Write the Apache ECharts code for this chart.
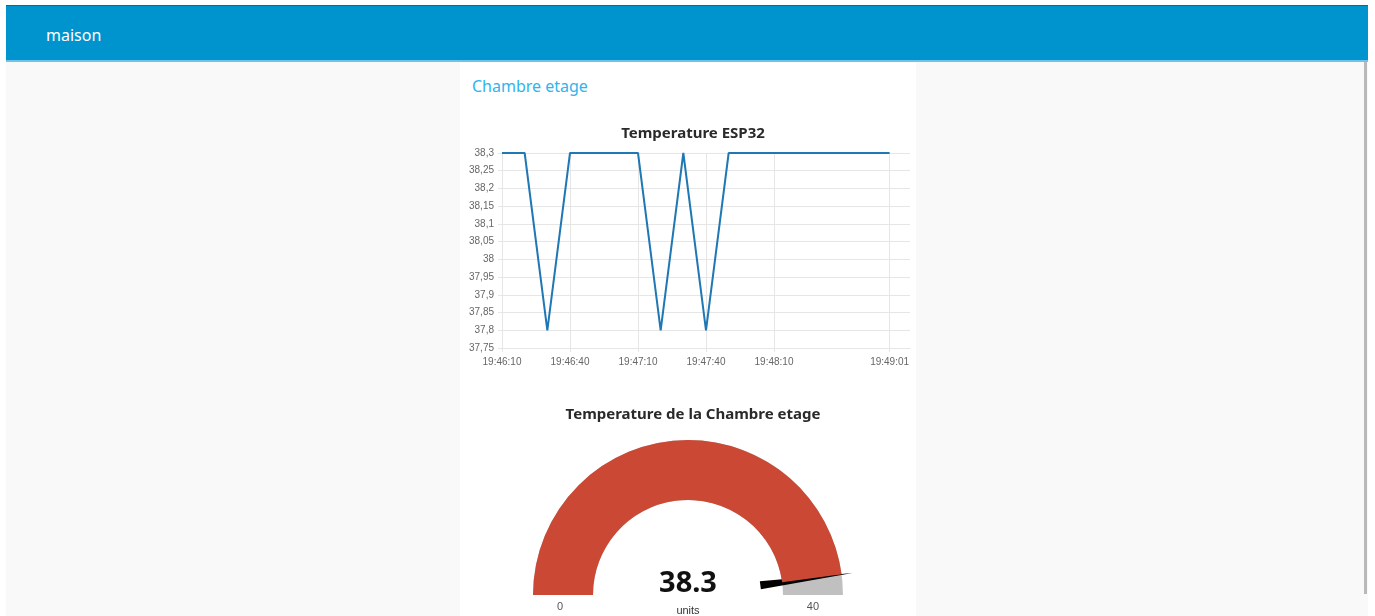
<!DOCTYPE html>
<html>
<head>
<meta charset="utf-8">
<script src="https://cdn.jsdelivr.net/npm/echarts@6/dist/echarts.min.js"></script>
<style>
  html, body { margin: 0; padding: 0; background: #fff; overflow: hidden; }
  body { width: 1375px; height: 616px; position: relative; font-family: "Noto Sans", sans-serif; }
  .page { position: absolute; left: 6px; top: 6px; width: 1362px; height: 610px; background: #f9f9f9; }
  .toolbar { position: absolute; left: 6px; top: 5px; width: 1362px; height: 57px; background: #0094ce;
             border-top: 1px solid #0b6a94; border-bottom: 2px solid #6fc3e6; box-sizing: border-box; }
  .toolbar span { position: absolute; left: 40px; top: 18px; color: #fff; font-size: 16px; }
  .card { position: absolute; left: 460px; top: 62px; width: 456px; height: 554px; background: #fff; }
  .card .group { position: absolute; left: 12px; top: 13px; color: #2fb4ee; font-size: 16px; }
  .scroll { position: absolute; left: 1364px; top: 62px; width: 3px; height: 532px; background: #b9b9b9; }
  #chart { position: absolute; left: 0; top: 0; width: 1375px; height: 616px; }
</style>
</head>
<body>
<div class="page"></div>
<div class="toolbar"><span>maison</span></div>
<div class="card"><div class="group">Chambre etage</div></div>
<div class="scroll"></div>
<div id="chart"></div>
<script>
// relevés du capteur (heure, °C)
const times = ['19:46:10', '19:46:20', '19:46:30', '19:46:40', '19:47:10', '19:47:20',
               '19:47:30', '19:47:40', '19:47:50', '19:49:01'];
const temps = [38.3, 38.3, 37.8, 38.3, 38.3, 37.8, 38.3, 37.8, 38.3, 38.3];
const xTicks = ['19:46:10', '19:46:40', '19:47:10', '19:47:40', '19:48:10', '19:49:01'];
const xEnd = '19:49:10';
const yMin = 37.75, yMax = 38.3, yStep = 0.05;
// jauge
const gaugeValue = 38.3;
const gaugeMin = 0, gaugeMax = 40;
const gaugeUnit = 'units';

// secondes depuis minuit
function secs(hms) {
  const p = hms.split(':').map(Number);
  return p[0] * 3600 + p[1] * 60 + p[2];
}
function pad(n) { return n < 10 ? '0' + n : '' + n; }
function fmtTime(v) {
  v = Math.round(v);
  return Math.floor(v / 3600) + ':' + pad(Math.floor(v / 60) % 60) + ':' + pad(v % 60);
}

const tickValues = xTicks.map(secs);
const gridColor = '#e6e6e6';

const option = {
  animation: false,
  title: [
    {
      text: 'Temperature ESP32', left: 688, top: 121, textAlign: 'center',
      textStyle: { fontFamily: 'Noto Sans', fontSize: 15, fontWeight: 'bold', color: '#2a2a2a' }
    },
    {
      text: 'Temperature de la Chambre etage', left: 688, top: 402, textAlign: 'center',
      textStyle: { fontFamily: 'Noto Sans', fontSize: 15, fontWeight: 'bold', color: '#2a2a2a' }
    }
  ],
  grid: { left: 502, top: 153, right: 465, bottom: 268 },
  xAxis: {
    type: 'value',
    min: secs(times[0]),
    max: secs(xEnd),
    axisLine: { show: true, lineStyle: { color: gridColor } },
    axisTick: { show: true, length: 4, customValues: tickValues, lineStyle: { color: gridColor } },
    splitLine: { show: true, lineStyle: { color: gridColor } },
    axisLabel: {
      customValues: tickValues,
      formatter: fmtTime,
      fontFamily: 'Liberation Sans', fontSize: 10, color: '#666', margin: 9
    }
  },
  yAxis: {
    type: 'value',
    min: yMin, max: yMax, interval: yStep,
    axisLine: { show: true, lineStyle: { color: gridColor } },
    axisTick: { show: true, length: 4, lineStyle: { color: gridColor } },
    splitLine: { show: true, lineStyle: { color: gridColor } },
    axisLabel: {
      formatter: v => String(+v.toFixed(2)).replace('.', ','),
      fontFamily: 'Liberation Sans', fontSize: 10, color: '#666', margin: 8
    }
  },
  series: [
    {
      type: 'line',
      data: times.map((t, i) => [secs(t), temps[i]]),
      showSymbol: false,
      lineStyle: { color: '#1f77b4', width: 2 },
      itemStyle: { color: '#1f77b4' }
    },
    {
      type: 'gauge',
      center: [688, 595],
      radius: 155,
      startAngle: 180, endAngle: 0,
      min: gaugeMin, max: gaugeMax,
      splitNumber: 1,
      progress: { show: true, width: 60, itemStyle: { color: '#ca4834' } },
      axisLine: { lineStyle: { width: 60, color: [[1, '#c0c0c0']] } },
      axisTick: { show: false },
      splitLine: { show: false, length: 0, distance: 0 },
      axisLabel: {
        distance: 24, color: '#555', fontFamily: 'Liberation Sans', fontSize: 11,
        align: 'center', verticalAlign: 'middle', lineHeight: 24,
        formatter: v => '\n' + v
      },
      pointer: {
        icon: 'triangle', length: 93, width: 8, offsetCenter: [0, -73],
        itemStyle: { color: '#000' }
      },
      anchor: { show: false },
      title: {
        offsetCenter: [0, 16], fontFamily: 'Liberation Sans', fontSize: 11, color: '#333'
      },
      detail: {
        offsetCenter: [0, -11], fontFamily: 'Noto Sans', fontSize: 29, fontWeight: 'bold',
        color: '#111', formatter: '{value}'
      },
      data: [{ value: gaugeValue, name: gaugeUnit }]
    }
  ]
};

const myChart = echarts.init(document.getElementById('chart'));
myChart.setOption(option);
window.onresize = function () { myChart.resize(); };
</script>
</body>
</html>
